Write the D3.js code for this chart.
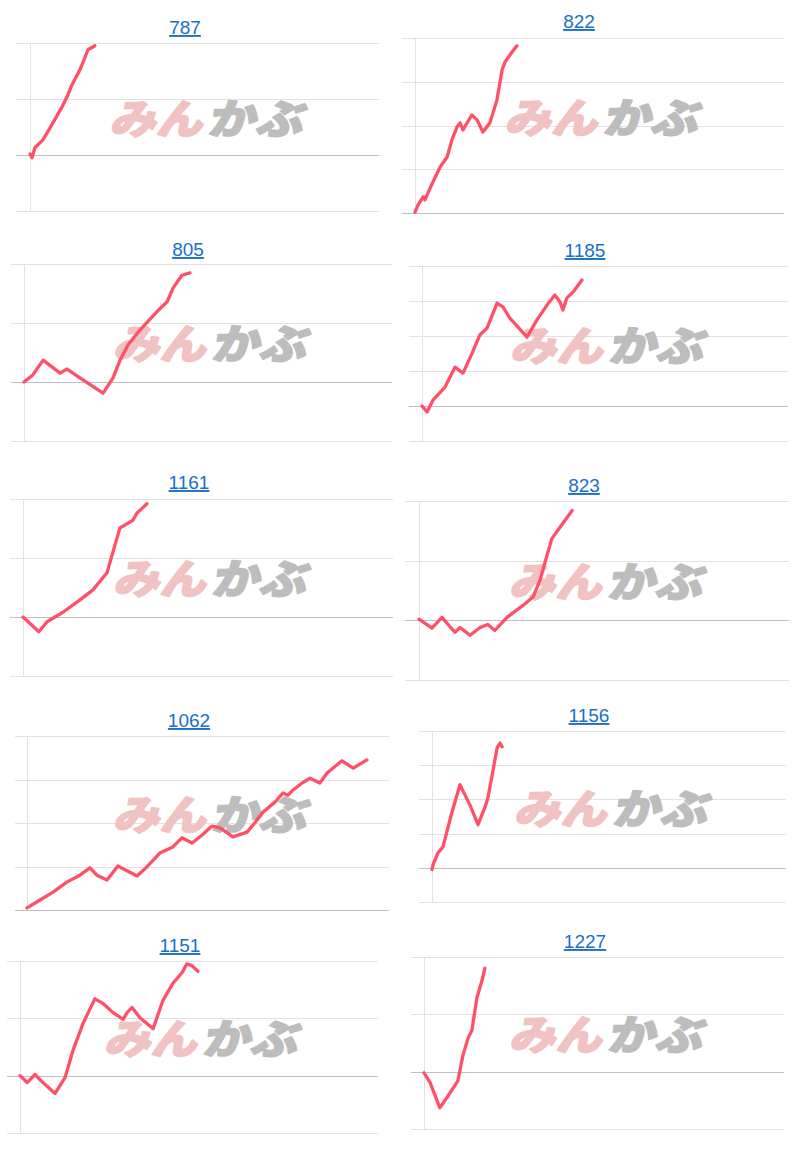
<!DOCTYPE html>
<html>
<head>
<meta charset="utf-8">
<script src="https://d3js.org/d3.v7.min.js"></script>
<style>
body { margin: 0; background: #fff; }
.title {
  font-family: Helvetica, Arial, "Liberation Sans", sans-serif;
  font-size: 19px;
  fill: #1a6fc9;
  text-decoration: underline;
}
.grid line { stroke: #e2e2e2; stroke-width: 1; shape-rendering: crispEdges; }
.grid line.zero { stroke: #bfbfbf; stroke-width: 1.5; }
.vaxis { stroke: #e2e2e2; stroke-width: 1; shape-rendering: crispEdges; }
.series { fill: none; stroke: #ff5068; stroke-width: 3.3; stroke-linejoin: round; stroke-linecap: round; }
.mark { font-family: "Noto Sans CJK JP", sans-serif; font-weight: 900; font-size: 41px; stroke-width: 1.6; stroke-linejoin: round; }
</style>
</head>
<body>
<div id="chart"></div>
<script>

// stock codes (panel titles)
var codes = ["787", "822", "805", "1185", "1161", "823", "1062", "1156", "1151", "1227"];

// y gridline values (return %, one gridline per value)
var ticks787  = [-10, 0, 10, 20];
var ticks822  = [0, 10, 20, 30, 40];
var ticks805  = [-10, 0, 10, 20];
var ticks1185 = [-10, 0, 10, 20, 30, 40];
var ticks1161 = [-10, 0, 10, 20];
var ticks823  = [-10, 0, 10, 20];
var ticks1062 = [0, 10, 20, 30, 40];
var ticks1156 = [-10, 0, 10, 20, 30, 40];
var ticks1151 = [-10, 0, 10, 20];
var ticks1227 = [-10, 0, 10, 20];

// series: [time (0-100 of period), return %]
var s787 = [[0,0.2],[0.6,-0.5],[1.4,1.3],[3.7,2.7],[5.7,4.8],[9.2,8.6],[10.6,10.4],[12,12.5],[14.3,15.2],[15.8,17.5],[16.6,18.8],[18.6,19.5]];
var s822 = [[0,0.2],[0.8,1.8],[2.2,3.7],[2.7,3],[4.1,5.7],[6.8,10.5],[8.7,12.8],[10,16.7],[11.4,19.7],[12.2,20.6],[13,19],[15.4,22.4],[16.8,21.3],[18.4,18.5],[20.3,20.6],[22.2,25.8],[23.6,32.7],[24.4,34.5],[26.3,36.8],[27.6,38.2]];
var s805 = [[0,0],[2.4,1.2],[5.2,3.7],[9.8,1.5],[11.7,2.2],[15.2,0.7],[21.5,-1.9],[24.2,0.7],[26.1,3.7],[28.3,6.3],[31.5,8.8],[36.1,11.9],[38.9,13.6],[40.5,15.9],[42.9,18.1],[45.1,18.5]];
var s1185 = [[0,0],[1.4,-1.7],[3,1.7],[6.3,5.4],[9,11.1],[11.2,9.4],[13.7,15.1],[15.8,20.3],[17.8,22.3],[20.5,29.4],[22.1,28.3],[24,25.1],[28.7,19.7],[31.4,24.6],[34.2,28.9],[36.3,31.7],[37.7,29.7],[38.5,27.4],[39.6,30.9],[41.3,32.6],[43.7,36]];
var s1161 = [[0,0],[4.3,-2.5],[6.5,-0.8],[10.8,0.8],[15.4,2.9],[18.9,4.6],[22.7,7.5],[24.3,11],[26.2,15.1],[27.6,15.6],[29.7,16.4],[30.8,17.6],[33.5,19.2]];
var s823 = [[0,0.2],[3.5,-1.3],[6.2,0.5],[9.7,-2],[11.1,-1.2],[13.8,-2.5],[16.5,-1.2],[18.6,-0.7],[20.5,-1.7],[23.8,0.5],[28.1,2.5],[30.8,3.9],[32.7,6.7],[34.6,10.9],[35.9,13.7],[38.1,15.6],[41.4,18.4]];
var s1062 = [[0,0.5],[3.6,2.3],[7.2,4.1],[11,6.4],[14.6,8],[17.4,9.7],[19.3,8],[22.1,6.9],[25.1,10.1],[30.4,7.8],[33.1,9.9],[36.7,13.1],[40.3,14.5],[42.8,16.6],[45.6,15.4],[48.3,17.2],[51.1,19.3],[53.3,18.9],[56.9,16.8],[60.8,17.9],[62.4,19.5],[65.2,22.5],[68.5,24.8],[70.7,26.9],[72.1,26.4],[73.5,27.6],[76,29.2],[78.2,30.3],[80.9,29.2],[82.9,31.5],[87,34.3],[90.1,32.6],[93.9,34.5]];
var s1156 = [[0,-0.5],[0.3,0.9],[1.7,4.4],[3.1,6.1],[5.6,16.1],[7.9,24.3],[10.7,18.4],[13,12.6],[15,17.8],[15.8,20.5],[16.9,26.6],[18.4,35.1],[19.2,36.5],[19.8,35.4]];
var s1151 = [[0,0],[2,-1.2],[4.2,0.2],[6.4,-1.2],[9.8,-3.1],[12.6,-0.3],[14.8,4.4],[17.6,9.1],[20.9,13.4],[23.2,12.6],[26,11],[28.8,9.8],[29.9,11],[31.3,11.9],[33.5,10.1],[37.2,8.2],[39.9,13.1],[42.7,16.1],[45.3,18],[46.6,19.5],[48,19.2],[49.7,18.2]];
var s1227 = [[0,-0.2],[1.7,-1.9],[4.4,-6.3],[6.7,-4.2],[9.4,-1.6],[10.8,2.8],[12.2,5.8],[13.3,7.2],[14.7,12.9],[16.1,15.9],[16.9,18]];

var tickSets = [ticks787, ticks822, ticks805, ticks1185, ticks1161, ticks823, ticks1062, ticks1156, ticks1151, ticks1227];
var seriesSets = [s787, s822, s805, s1185, s1161, s823, s1062, s1156, s1151, s1227];

// panel layout: title position, grid left, axis x, plot right, top, bottom
var layout = [
  {tx: 185, ty: 34,   gl: 16,  ax: 30,  r: 379, t: 43,  b: 211},
  {tx: 579, ty: 28,   gl: 402, ax: 415, r: 784, t: 38,  b: 213},
  {tx: 188, ty: 256,  gl: 11,  ax: 24,  r: 392, t: 264, b: 441},
  {tx: 585, ty: 257,  gl: 409, ax: 422, r: 788, t: 266, b: 441},
  {tx: 189, ty: 489,  gl: 10,  ax: 23,  r: 393, t: 499, b: 676},
  {tx: 584, ty: 492,  gl: 405, ax: 419, r: 789, t: 501, b: 680},
  {tx: 189, ty: 727,  gl: 15,  ax: 27,  r: 389, t: 736, b: 910},
  {tx: 589, ty: 722,  gl: 419, ax: 432, r: 786, t: 731, b: 902},
  {tx: 180, ty: 952,  gl: 7,   ax: 20,  r: 378, t: 961, b: 1133},
  {tx: 585, ty: 948,  gl: 411, ax: 424, r: 784, t: 957, b: 1129}
];

var svg = d3.select("#chart")
  .append("svg")
  .attr("width", 800)
  .attr("height", 1150);

codes.forEach(function(code, i) {
  var L = layout[i],
      ticks = tickSets[i],
      data = seriesSets[i];

  var x = d3.scaleLinear().domain([0, 100]).range([L.ax, L.r]);
  var y = d3.scaleLinear().domain(d3.extent(ticks)).range([L.b, L.t]);

  var g = svg.append("g").attr("class", "panel");

  g.append("text")
    .attr("class", "title")
    .attr("x", L.tx)
    .attr("y", L.ty)
    .attr("text-anchor", "middle")
    .text(code);

  g.append("g").attr("class", "grid")
    .selectAll("line")
    .data(ticks)
    .enter().append("line")
      .attr("class", function(d) { return d === 0 ? "zero" : null; })
      .attr("x1", L.gl)
      .attr("x2", L.r)
      .attr("y1", function(d) { return Math.round(y(d)) + 0.5; })
      .attr("y2", function(d) { return Math.round(y(d)) + 0.5; });

  g.append("line")
    .attr("class", "vaxis")
    .attr("x1", Math.round(x(0)) + 0.5)
    .attr("x2", Math.round(x(0)) + 0.5)
    .attr("y1", y.range()[1])
    .attr("y2", y.range()[0]);

  // watermark
  var cx = (L.ax + L.r) / 2,
      cy = L.t + 0.46 * (L.b - L.t);
  var wm = g.append("g")
    .attr("transform", "translate(" + cx + "," + (cy + 14) + ") skewX(-12)");
  wm.append("text")
    .attr("class", "mark")
    .attr("x", -95)
    .attr("textLength", 93)
    .attr("lengthAdjust", "spacingAndGlyphs")
    .attr("fill", "#f0c2c2")
    .attr("stroke", "#f0c2c2")
    .text("みん");
  wm.append("text")
    .attr("class", "mark")
    .attr("x", 3)
    .attr("textLength", 95)
    .attr("lengthAdjust", "spacingAndGlyphs")
    .attr("fill", "#bdbdbd")
    .attr("stroke", "#bdbdbd")
    .text("かぶ");

  var line = d3.line()
    .x(function(d) { return x(d[0]); })
    .y(function(d) { return y(d[1]); });

  g.append("path")
    .datum(data)
    .attr("class", "series")
    .attr("d", line);
});

</script>
</body>
</html>
